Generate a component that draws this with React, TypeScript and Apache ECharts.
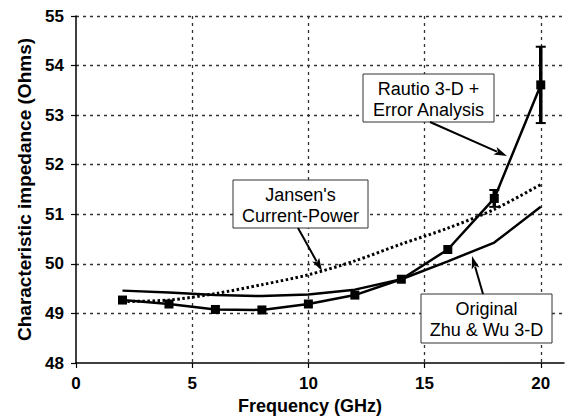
import React, { useEffect, useRef } from "react";
import * as echarts from "echarts";

const freq = [2, 4, 6, 8, 10, 12, 14, 16, 18, 20];
const rautio = [49.27, 49.19, 49.08, 49.07, 49.19, 49.37, 49.69, 50.29, 51.32, 53.61];
const zhuWu = [49.46, 49.42, 49.37, 49.35, 49.38, 49.48, 49.69, 50.05, 50.43, 51.15];
const jansen = [49.24, 49.27, 49.4, 49.58, 49.78, 50.06, 50.4, 50.72, 51.1, 51.6];
const errFreq = [18, 20];
const errLow = [51.15, 52.84];
const errHigh = [51.49, 54.38];

const xTicks = [0, 5, 10, 15, 20];
const yTicks = [48, 49, 50, 51, 52, 53, 54, 55];

const FONT = "'Liberation Sans', Arial, Helvetica, sans-serif";

function arrow(x1: number, y1: number, x2: number, y2: number) {
  const dx = x2 - x1;
  const dy = y2 - y1;
  const len = Math.sqrt(dx * dx + dy * dy);
  const ux = dx / len;
  const uy = dy / len;
  const L = 13;
  const W = 4;
  const bx = x2 - ux * L;
  const by = y2 - uy * L;
  const nx = -uy;
  const ny = ux;
  return [
    {
      type: "line",
      shape: { x1, y1, x2: bx + ux * 2, y2: by + uy * 2 },
      style: { stroke: "#000", lineWidth: 2 },
      z: 100,
    },
    {
      type: "polygon",
      shape: {
        points: [
          [x2, y2],
          [bx + nx * W, by + ny * W],
          [bx + ux * 3, by + uy * 3],
          [bx - nx * W, by - ny * W],
        ],
      },
      style: { fill: "#000" },
      z: 100,
    },
  ];
}

function box(x: number, y: number, w: number, h: number, text: string) {
  return [
    {
      type: "rect",
      shape: { x, y, width: w, height: h },
      style: { fill: "#fff", stroke: "#333", lineWidth: 1 },
      z: 100,
    },
    {
      type: "text",
      x: x + w / 2,
      y: y + h / 2 + 1,
      style: {
        text,
        font: `18px ${FONT}`,
        fill: "#000",
        align: "center",
        verticalAlign: "middle",
        lineHeight: 21,
      },
      z: 101,
    },
  ];
}

export default function App() {
  const ref = useRef<HTMLDivElement>(null);
  useEffect(() => {
    if (!ref.current) return;
    const chart = echarts.init(ref.current, undefined, { renderer: "svg" });
    const gridLine = { color: "#333", width: 1.3, type: [3, 4] as any };
    chart.setOption({
      animation: false,
      backgroundColor: "#fff",
      grid: { left: 76, right: 1, top: 16, bottom: 57 },
      xAxis: {
        type: "value",
        min: 0,
        max: 21,
        interval: 5,
        name: "Frequency (GHz)",
        nameLocation: "middle",
        nameGap: 31,
        nameTextStyle: {
          fontFamily: FONT,
          fontWeight: "bold",
          fontSize: 18,
          color: "#000",
          padding: [0, 20, 0, 0],
        },
        axisLine: { show: true, onZero: false, lineStyle: { color: "#000", width: 1.5 } },
        axisTick: { show: true, length: 5, lineStyle: { color: "#000", width: 1.2 } },
        axisLabel: {
          fontFamily: FONT,
          fontWeight: "bold",
          fontSize: 17,
          color: "#000",
          margin: 12,
          showMaxLabel: false,
          formatter: (v: number) => (xTicks.includes(v) ? String(v) : ""),
        },
        splitLine: { show: true, showMinLine: false, showMaxLine: false, lineStyle: gridLine },
      },
      yAxis: {
        type: "value",
        min: 48,
        max: 55,
        interval: 1,
        name: "Characteristic impedance (Ohms)",
        nameLocation: "middle",
        nameGap: 42,
        nameTextStyle: {
          fontFamily: FONT,
          fontWeight: "bold",
          fontSize: 19,
          color: "#000",
        },
        axisLine: { show: true, lineStyle: { color: "#000", width: 1.5 } },
        axisTick: { show: true, length: 5, lineStyle: { color: "#000", width: 1.2 } },
        axisLabel: {
          fontFamily: FONT,
          fontWeight: "bold",
          fontSize: 17,
          color: "#000",
          margin: 12,
          formatter: (v: number) => (yTicks.includes(v) ? String(v) : ""),
        },
        splitLine: { show: true, showMinLine: false, lineStyle: gridLine },
      },
      series: [
        {
          name: "Jansen's Current-Power",
          type: "line",
          data: freq.map((f, i) => [f, jansen[i]]),
          showSymbol: false,
          smooth: 0.3,
          lineStyle: { color: "#000", width: 3, type: [2.5, 2.5] as any },
          z: 2,
        },
        {
          name: "Original Zhu & Wu 3-D",
          type: "line",
          data: freq.map((f, i) => [f, zhuWu[i]]),
          showSymbol: false,
          lineStyle: { color: "#000", width: 2.5 },
          z: 3,
        },
        {
          name: "Rautio 3-D + Error Analysis",
          type: "line",
          data: freq.map((f, i) => [f, rautio[i]]),
          symbol: "rect",
          symbolSize: 9,
          itemStyle: { color: "#000" },
          lineStyle: { color: "#000", width: 2.5 },
          z: 4,
        },
        {
          name: "Error",
          type: "custom",
          data: errFreq.map((f, i) => [f, errLow[i], errHigh[i]]),
          encode: { x: 0, y: [1, 2] },
          z: 5,
          renderItem: (params: any, api: any) => {
            const x = api.value(0);
            const lo = api.coord([x, api.value(1)]);
            const hi = api.coord([x, api.value(2)]);
            const cw = 5;
            return {
              type: "group",
              children: [
                {
                  type: "line",
                  shape: { x1: lo[0], y1: lo[1], x2: hi[0], y2: hi[1] },
                  style: { stroke: "#000", lineWidth: 3.5 },
                },
                {
                  type: "line",
                  shape: { x1: lo[0] - cw, y1: lo[1], x2: lo[0] + cw, y2: lo[1] },
                  style: { stroke: "#000", lineWidth: 2 },
                },
                {
                  type: "line",
                  shape: { x1: hi[0] - cw, y1: hi[1], x2: hi[0] + cw, y2: hi[1] },
                  style: { stroke: "#000", lineWidth: 2 },
                },
              ],
            };
          },
        },
      ],
      graphic: [
        ...box(363, 74, 131, 48, "Rautio 3-D +\nError Analysis"),
        ...arrow(430, 122, 507, 156),
        ...box(233, 180, 135, 48, "Jansen's\nCurrent-Power"),
        ...arrow(298, 228, 322, 271),
        ...box(421, 294, 131, 49, "Original\nZhu & Wu 3-D"),
        ...arrow(483, 294, 472, 256),
      ],
    });
    return () => chart.dispose();
  }, []);
  return (
    <div
      ref={ref}
      style={{ position: "absolute", left: 0, top: 0, width: 565, height: 420, background: "#fff" }}
    />
  );
}
